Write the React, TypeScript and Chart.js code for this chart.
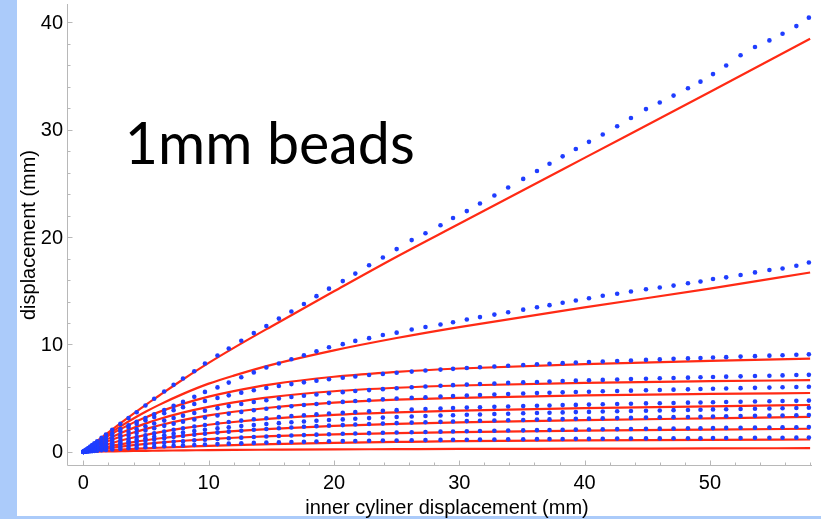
import React, { useEffect, useRef } from 'react';
import { Chart, registerables } from 'chart.js';
Chart.register(...registerables);

// ---- data ----
const dotX = [0, 0.12, 0.25, 0.4, 0.55, 0.7, 0.88, 1.1, 1.45, 1.8, 2.3, 2.95, 3.6, 4.25, 4.95, 5.65, 6.45, 7.2, 7.95, 8.85, 9.7, 10.7, 11.6, 12.6, 13.6, 14.6, 15.6, 16.6, 17.6, 18.6, 19.6, 20.7, 21.7, 22.8, 23.9, 25.0, 26.2, 27.3, 28.5, 29.5, 30.6, 31.65, 32.8, 33.9, 35.1, 36.2, 37.2, 38.25, 39.3, 40.35, 41.45, 42.6, 43.7, 44.9, 46.0, 47.1, 48.25, 49.25, 50.25, 51.3, 52.45, 53.6, 54.75, 55.8, 56.9, 57.9];

const dots1 = [0, 0.11, 0.22, 0.36, 0.5, 0.63, 0.8, 0.99, 1.3, 1.62, 2.06, 2.6, 3.14, 3.69, 4.32, 4.95, 5.62, 6.24, 6.83, 7.5, 8.22, 8.97, 9.62, 10.35, 11.06, 11.72, 12.41, 13.07, 13.77, 14.5, 15.2, 15.9, 16.6, 17.38, 18.1, 18.88, 19.72, 20.36, 21.1, 21.78, 22.42, 23.13, 23.88, 24.62, 25.42, 26.15, 26.83, 27.52, 28.2, 28.87, 29.55, 30.32, 31.09, 31.92, 32.54, 33.18, 33.86, 34.48, 35.18, 35.98, 36.93, 37.71, 38.32, 38.94, 39.65, 40.44];
const dots2 = [0, 0.1, 0.21, 0.33, 0.45, 0.57, 0.71, 0.87, 1.13, 1.38, 1.72, 2.12, 2.47, 2.8, 3.15, 3.5, 3.9, 4.28, 4.65, 5.12, 5.58, 6.0, 6.45, 6.95, 7.4, 7.85, 8.22, 8.62, 8.99, 9.36, 9.74, 10.03, 10.33, 10.59, 10.88, 11.1, 11.39, 11.62, 11.86, 12.07, 12.32, 12.55, 12.78, 13.0, 13.24, 13.46, 13.66, 13.88, 14.1, 14.31, 14.53, 14.72, 14.93, 15.14, 15.3, 15.48, 15.7, 15.86, 16.1, 16.25, 16.47, 16.71, 16.93, 17.08, 17.33, 17.64];
const dots3 = [0, 0.09, 0.18, 0.29, 0.40, 0.50, 0.63, 0.78, 1.01, 1.23, 1.53, 1.91, 2.26, 2.60, 2.93, 3.25, 3.59, 3.88, 4.16, 4.46, 4.73, 5.02, 5.26, 5.51, 5.73, 5.94, 6.13, 6.31, 6.47, 6.62, 6.76, 6.90, 7.02, 7.15, 7.26, 7.36, 7.47, 7.57, 7.66, 7.73, 7.81, 7.88, 7.95, 8.02, 8.09, 8.15, 8.20, 8.26, 8.31, 8.36, 8.41, 8.46, 8.51, 8.56, 8.61, 8.66, 8.70, 8.74, 8.78, 8.82, 8.87, 8.91, 8.96, 9.00, 9.04, 9.08];
const dots4 = [0, 0.07, 0.15, 0.24, 0.32, 0.41, 0.51, 0.63, 0.82, 1.00, 1.25, 1.55, 1.84, 2.11, 2.38, 2.64, 2.91, 3.15, 3.37, 3.62, 3.83, 4.07, 4.26, 4.46, 4.64, 4.80, 4.96, 5.10, 5.22, 5.34, 5.45, 5.56, 5.66, 5.75, 5.84, 5.92, 6.01, 6.08, 6.15, 6.21, 6.26, 6.32, 6.37, 6.42, 6.47, 6.51, 6.55, 6.59, 6.63, 6.67, 6.70, 6.74, 6.78, 6.81, 6.85, 6.88, 6.91, 6.94, 6.97, 7.00, 7.03, 7.06, 7.09, 7.12, 7.15, 7.17];
const dots5 = [0, 0.06, 0.12, 0.20, 0.27, 0.34, 0.42, 0.52, 0.68, 0.83, 1.04, 1.29, 1.53, 1.76, 1.98, 2.20, 2.42, 2.62, 2.81, 3.01, 3.19, 3.39, 3.55, 3.72, 3.87, 4.01, 4.13, 4.25, 4.36, 4.46, 4.56, 4.65, 4.73, 4.81, 4.89, 4.96, 5.03, 5.09, 5.15, 5.20, 5.25, 5.29, 5.34, 5.38, 5.43, 5.47, 5.50, 5.54, 5.57, 5.60, 5.64, 5.67, 5.70, 5.73, 5.76, 5.79, 5.82, 5.85, 5.87, 5.90, 5.93, 5.96, 5.98, 6.01, 6.04, 6.06];
const dots6 = [0, 0.05, 0.10, 0.15, 0.21, 0.27, 0.33, 0.41, 0.53, 0.65, 0.81, 1.01, 1.20, 1.37, 1.55, 1.72, 1.89, 2.05, 2.19, 2.36, 2.50, 2.65, 2.78, 2.91, 3.03, 3.13, 3.24, 3.33, 3.41, 3.49, 3.57, 3.64, 3.70, 3.77, 3.83, 3.88, 3.94, 3.99, 4.04, 4.08, 4.12, 4.15, 4.19, 4.22, 4.26, 4.29, 4.32, 4.35, 4.37, 4.40, 4.43, 4.45, 4.48, 4.51, 4.53, 4.55, 4.58, 4.60, 4.62, 4.64, 4.66, 4.69, 4.71, 4.73, 4.75, 4.77];
const dots7 = [0, 0.04, 0.08, 0.13, 0.17, 0.22, 0.27, 0.33, 0.43, 0.53, 0.66, 0.83, 0.98, 1.12, 1.27, 1.41, 1.55, 1.68, 1.80, 1.94, 2.05, 2.18, 2.29, 2.40, 2.50, 2.59, 2.67, 2.75, 2.83, 2.89, 2.96, 3.02, 3.08, 3.14, 3.19, 3.24, 3.29, 3.33, 3.38, 3.41, 3.45, 3.48, 3.52, 3.55, 3.59, 3.62, 3.64, 3.67, 3.70, 3.72, 3.75, 3.78, 3.80, 3.83, 3.85, 3.88, 3.90, 3.92, 3.95, 3.97, 3.99, 4.01, 4.04, 4.06, 4.08, 4.10];
const dots8 = [0, 0.03, 0.06, 0.10, 0.14, 0.18, 0.22, 0.27, 0.36, 0.43, 0.54, 0.68, 0.80, 0.92, 1.04, 1.15, 1.27, 1.38, 1.48, 1.59, 1.69, 1.79, 1.88, 1.97, 2.05, 2.13, 2.20, 2.27, 2.33, 2.39, 2.44, 2.49, 2.54, 2.59, 2.63, 2.67, 2.72, 2.75, 2.79, 2.82, 2.86, 2.89, 2.92, 2.94, 2.97, 3.00, 3.02, 3.05, 3.07, 3.09, 3.12, 3.14, 3.16, 3.19, 3.21, 3.23, 3.25, 3.27, 3.29, 3.31, 3.33, 3.35, 3.37, 3.39, 3.41, 3.43];
const dots9 = [0, 0.02, 0.04, 0.07, 0.09, 0.12, 0.15, 0.18, 0.24, 0.29, 0.36, 0.45, 0.54, 0.62, 0.70, 0.78, 0.86, 0.93, 0.99, 1.07, 1.13, 1.20, 1.26, 1.32, 1.38, 1.43, 1.48, 1.52, 1.56, 1.60, 1.64, 1.68, 1.71, 1.74, 1.77, 1.80, 1.83, 1.85, 1.88, 1.90, 1.92, 1.94, 1.96, 1.98, 2.00, 2.02, 2.03, 2.05, 2.07, 2.08, 2.10, 2.11, 2.13, 2.14, 2.16, 2.17, 2.19, 2.20, 2.21, 2.23, 2.24, 2.25, 2.27, 2.28, 2.29, 2.31];
const dots10 = [0, 0.01, 0.03, 0.04, 0.06, 0.07, 0.09, 0.11, 0.14, 0.18, 0.22, 0.27, 0.33, 0.37, 0.42, 0.47, 0.52, 0.56, 0.60, 0.64, 0.68, 0.72, 0.76, 0.79, 0.83, 0.86, 0.88, 0.91, 0.93, 0.96, 0.98, 1.00, 1.01, 1.03, 1.05, 1.06, 1.08, 1.09, 1.11, 1.12, 1.13, 1.14, 1.15, 1.16, 1.17, 1.18, 1.19, 1.20, 1.21, 1.21, 1.22, 1.23, 1.24, 1.25, 1.25, 1.26, 1.27, 1.27, 1.28, 1.29, 1.29, 1.30, 1.31, 1.31, 1.32, 1.33];

const lineX = [0, 1, 2, 3, 4, 5, 6, 8, 10, 12, 15, 20, 25, 30, 40, 50, 58];
const line1 = [0, 0.92, 1.82, 2.7, 3.56, 4.4, 5.2, 6.78, 8.28, 9.68, 11.68, 14.95, 18.17, 21.24, 27.38, 33.52, 38.47];
const line2 = [0, 0.85, 1.65, 2.4, 3.1, 3.75, 4.35, 5.42, 6.35, 7.1, 8.1, 9.45, 10.6, 11.62, 13.45, 15.2, 16.7];
const line3 = [0, 0.79, 1.50, 2.14, 2.72, 3.23, 3.70, 4.49, 5.14, 5.66, 6.28, 6.99, 7.45, 7.76, 8.17, 8.47, 8.68];
const line4 = [0, 0.65, 1.23, 1.76, 2.23, 2.65, 3.03, 3.67, 4.19, 4.61, 5.10, 5.64, 5.97, 6.18, 6.43, 6.58, 6.67];
const line5 = [0, 0.53, 1.00, 1.42, 1.80, 2.14, 2.45, 2.97, 3.39, 3.73, 4.13, 4.58, 4.86, 5.03, 5.25, 5.39, 5.48];
const line6 = [0, 0.39, 0.73, 1.05, 1.33, 1.58, 1.81, 2.20, 2.52, 2.78, 3.09, 3.45, 3.68, 3.84, 4.07, 4.24, 4.36];
const line7 = [0, 0.26, 0.50, 0.71, 0.91, 1.08, 1.24, 1.51, 1.74, 1.92, 2.14, 2.41, 2.60, 2.74, 2.95, 3.12, 3.25];
const line8 = [0, 0.18, 0.34, 0.49, 0.62, 0.74, 0.85, 1.03, 1.18, 1.31, 1.46, 1.63, 1.75, 1.84, 1.97, 2.07, 2.15];
const line9 = [0, 0.07, 0.14, 0.21, 0.27, 0.33, 0.38, 0.47, 0.56, 0.63, 0.72, 0.84, 0.92, 0.99, 1.07, 1.12, 1.15];
const line10 = [0, 0.02, 0.04, 0.06, 0.08, 0.09, 0.11, 0.13, 0.16, 0.18, 0.20, 0.23, 0.25, 0.27, 0.29, 0.32, 0.34];

const dotSeries = [dots1, dots2, dots3, dots4, dots5, dots6, dots7, dots8, dots9, dots10];
const lineSeries = [line1, line2, line3, line4, line5, line6, line7, line8, line9, line10];

const xTicks = [0, 10, 20, 30, 40, 50];
const yTicks = [0, 10, 20, 30, 40];
const minorStep = 2;
const xRange = [-1.23, 58.15];
const yRange = [-1.32, 41.71];

const xTitle = 'inner cyliner displacement (mm)';
const yTitle = 'displacement (mm)';
const noteText = '1mm beads';
const notePos = [3.3, 26.8];

// ---- style ----
const DOT = '#1f3dff';
const RED = '#ff2a14';
const AXIS = '#b8b8b8';
const BAND = '#abcbfa';
const FONT = '"Liberation Sans", Arial, Helvetica, sans-serif';

const decor = {
  id: 'decor',
  beforeDraw(chart: any) {
    const { ctx, width, height } = chart;
    ctx.save();
    ctx.fillStyle = '#ffffff';
    ctx.fillRect(0, 0, width, height);
    ctx.fillStyle = BAND;
    ctx.fillRect(0, 0, 17, height);
    ctx.fillRect(0, height - 3, width, 3);
    ctx.restore();
  },
  beforeDatasetsDraw(chart: any) {
    const { ctx, chartArea: a, scales } = chart;
    const xs = scales.x;
    const ys = scales.y;
    const ax = Math.round(a.left) - 0.5;
    const ay = Math.round(a.bottom) - 0.5;
    ctx.save();
    ctx.strokeStyle = AXIS;
    ctx.lineWidth = 1;
    ctx.beginPath();
    ctx.moveTo(ax, a.top);
    ctx.lineTo(ax, ay);
    ctx.lineTo(a.right, ay);
    for (let v = 0; v <= yRange[1]; v += minorStep) {
      const py = Math.round(ys.getPixelForValue(v)) + 0.5;
      const len = yTicks.includes(v) ? 5 : 3;
      ctx.moveTo(ax, py);
      ctx.lineTo(ax + len, py);
    }
    for (let v = 0; v <= xRange[1]; v += minorStep) {
      const px = Math.round(xs.getPixelForValue(v)) + 0.5;
      const len = xTicks.includes(v) ? 5 : 3;
      ctx.moveTo(px, ay);
      ctx.lineTo(px, ay - len);
    }
    ctx.stroke();

    ctx.fillStyle = '#000';
    ctx.font = `20px ${FONT}`;
    ctx.textAlign = 'right';
    ctx.textBaseline = 'middle';
    yTicks.forEach((v) => ctx.fillText(String(v), a.left - 5, ys.getPixelForValue(v) + 1));
    ctx.textAlign = 'center';
    xTicks.forEach((v) => ctx.fillText(String(v), xs.getPixelForValue(v), a.bottom + 17));
    ctx.fillText(xTitle, (a.left + a.right) / 2 + 7, a.bottom + 42);
    ctx.translate(29, (a.top + a.bottom) / 2);
    ctx.rotate(-Math.PI / 2);
    ctx.fillText(yTitle, 0, 0);
    ctx.restore();
  },
  afterDatasetsDraw(chart: any) {
    const { ctx, scales } = chart;
    ctx.save();
    ctx.fillStyle = '#000';
    ctx.textAlign = 'left';
    ctx.textBaseline = 'alphabetic';
    ctx.font = '55px Lato, "Open Sans", sans-serif';
    const w = ctx.measureText(noteText).width;
    const size = 55 * 290 / w;
    ctx.font = `${size}px Lato, "Open Sans", sans-serif`;
    ctx.fillText(noteText, scales.x.getPixelForValue(notePos[0]), scales.y.getPixelForValue(notePos[1]));
    ctx.restore();
  },
};

export default function App() {
  const ref = useRef<HTMLCanvasElement>(null);
  useEffect(() => {
    document.body.style.margin = '0';
    const canvas = ref.current;
    if (!canvas) return;
    const dotSets = dotSeries.map((s, i) => ({
      label: `measured ${i + 1}`,
      data: dotX.map((x, j) => ({ x, y: s[j] })),
      showLine: false,
      pointRadius: 2.3,
      pointBorderWidth: 0,
      pointBackgroundColor: DOT,
      pointBorderColor: DOT,
      order: 0,
    }));
    const lineSets = lineSeries.map((s, i) => ({
      label: `model ${i + 1}`,
      data: lineX.map((x, j) => ({ x, y: s[j] })),
      showLine: true,
      borderColor: RED,
      borderWidth: 2.2,
      pointRadius: 0,
      cubicInterpolationMode: 'monotone',
      fill: false,
      order: 1,
    }));
    const chart = new Chart(canvas, {
      type: 'scatter',
      data: { datasets: [...dotSets, ...lineSets] as any },
      options: {
        responsive: false,
        animation: false,
        devicePixelRatio: 1,
        events: [],
        layout: { padding: { left: 0, right: 9, top: 0, bottom: 0 } },
        plugins: { legend: { display: false }, tooltip: { enabled: false } },
        scales: {
          x: {
            type: 'linear',
            min: xRange[0],
            max: xRange[1],
            grid: { display: false, drawTicks: false },
            border: { display: false },
            ticks: { display: false },
            afterFit: (s: any) => { s.height = 53; },
          },
          y: {
            type: 'linear',
            min: yRange[0],
            max: yRange[1],
            grid: { display: false, drawTicks: false },
            border: { display: false },
            ticks: { display: false },
            afterFit: (s: any) => { s.width = 68; },
          },
        },
      } as any,
      plugins: [decor],
    });
    return () => chart.destroy();
  }, []);
  return (
    <div style={{ position: 'fixed', left: 0, top: 0, width: 821, height: 519 }}>
      <canvas ref={ref} width={821} height={519} style={{ display: 'block', width: 821, height: 519 }} />
    </div>
  );
}
